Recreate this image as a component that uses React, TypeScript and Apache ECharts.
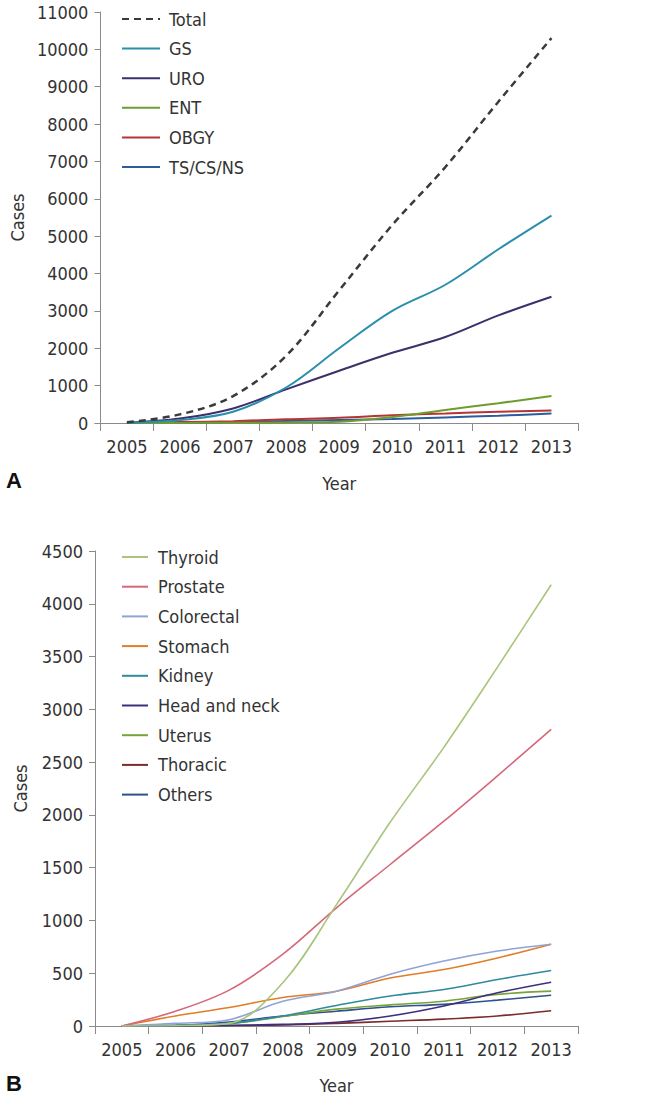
import React, { useEffect, useRef } from "react";
import * as echarts from "echarts";

const years = ["2005", "2006", "2007", "2008", "2009", "2010", "2011", "2012", "2013"];

// Panel A
const namesA = ["Total", "GS", "URO", "ENT", "OBGY", "TS/CS/NS"];
const totalA = [20, 230, 720, 1800, 3550, 5300, 6850, 8600, 10300];
const gsA = [10, 80, 300, 950, 2000, 3000, 3700, 4650, 5550];
const uroA = [10, 120, 390, 900, 1400, 1880, 2300, 2880, 3380];
const entA = [0, 3, 5, 15, 35, 160, 350, 530, 725];
const obgyA = [0, 25, 50, 100, 140, 210, 255, 300, 335];
const tsA = [0, 10, 25, 55, 80, 105, 150, 195, 255];
const colorsA = ["#3a3a3a", "#2a8fac", "#3c2f6b", "#6f9c30", "#b83434", "#2b5d9c"];

// Panel B
const namesB = ["Thyroid", "Prostate", "Colorectal", "Stomach", "Kidney", "Head and neck", "Uterus", "Thoracic", "Others"];
const thyroidB = [0, 3, 25, 410, 1150, 1930, 2640, 3400, 4180];
const prostateB = [0, 140, 340, 680, 1120, 1530, 1940, 2370, 2810];
const colorectalB = [0, 25, 60, 235, 330, 490, 615, 710, 775];
const stomachB = [0, 95, 175, 270, 330, 455, 535, 645, 775];
const kidneyB = [0, 10, 25, 95, 195, 285, 345, 440, 525];
const headNeckB = [0, 2, 5, 15, 35, 95, 190, 315, 415];
const uterusB = [0, 3, 20, 90, 160, 200, 235, 300, 330];
const thoracicB = [0, 0, 5, 10, 25, 45, 65, 95, 145];
const othersB = [0, 5, 38, 95, 140, 182, 205, 245, 292];
const colorsB = ["#a9c47c", "#d5687a", "#8fa3d8", "#e07d25", "#2f8b9c", "#3d2f7c", "#78a23a", "#7a2b2b", "#2e508c"];

const ticksA = { min: 0, max: 11000, interval: 1000 };
const ticksB = { min: 0, max: 4500, interval: 500 };

const FONT = "'DejaVu Sans Condensed', 'Roboto', sans-serif";
const FS = 18;
const TXT = "#333333";

export default function App() {
  const ref = useRef<HTMLDivElement>(null);
  useEffect(() => {
    if (!ref.current) return;
    const chart = echarts.init(ref.current, null, { renderer: "svg" });
    const dataA = [totalA, gsA, uroA, entA, obgyA, tsA];
    const dataB = [thyroidB, prostateB, colorectalB, stomachB, kidneyB, headNeckB, uterusB, thoracicB, othersB];

    const xAxisBase = (gridIndex: number, gap: number) => ({
      type: "category",
      gridIndex,
      data: years,
      boundaryGap: true,
      name: "Year",
      nameLocation: "middle",
      nameGap: gap,
      nameTextStyle: { fontFamily: FONT, fontSize: FS, color: TXT },
      axisLine: { lineStyle: { color: "#8a8a8a", width: 1 } },
      axisTick: { show: true, length: 8, alignWithLabel: false, lineStyle: { color: "#8a8a8a" } },
      axisLabel: { fontFamily: FONT, fontSize: FS, color: TXT, margin: 14, interval: 0 },
      splitLine: { show: false },
    });
    const yAxisBase = (gridIndex: number, t: any, gap: number) => ({
      type: "value",
      gridIndex,
      min: t.min,
      max: t.max,
      interval: t.interval,
      name: "Cases",
      nameLocation: "middle",
      nameGap: gap,
      nameTextStyle: { fontFamily: FONT, fontSize: FS, color: TXT },
      axisLine: { show: true, lineStyle: { color: "#8a8a8a", width: 1 } },
      axisTick: { show: true, length: 6, lineStyle: { color: "#8a8a8a" } },
      axisLabel: { fontFamily: FONT, fontSize: FS, color: TXT, margin: 12, formatter: (v: number) => String(v) },
      splitLine: { show: false },
    });

    const seriesA = namesA.map((n, i) => ({
      name: n,
      type: "line",
      xAxisIndex: 0,
      yAxisIndex: 0,
      data: dataA[i],
      smooth: 0.35,
      symbol: "none",
      lineStyle: { color: colorsA[i], width: i === 0 ? 2.5 : 2, type: i === 0 ? [7, 5] : "solid" },
      itemStyle: { color: colorsA[i] },
      z: 10 - i,
    }));
    const seriesB = namesB.map((n, i) => ({
      name: n,
      type: "line",
      xAxisIndex: 1,
      yAxisIndex: 1,
      data: dataB[i],
      smooth: 0.35,
      symbol: "none",
      lineStyle: { color: colorsB[i], width: 1.6 },
      itemStyle: { color: colorsB[i] },
      z: 10 - i,
    }));

    chart.setOption({
      animation: false,
      backgroundColor: "#ffffff",
      grid: [
        { left: 100, top: 12, width: 478, height: 411 },
        { left: 95, top: 551, width: 483, height: 475 },
      ],
      xAxis: [xAxisBase(0, 51), xAxisBase(1, 50)],
      yAxis: [yAxisBase(0, ticksA, 70), yAxisBase(1, ticksB, 66)],
      legend: [
        {
          data: namesA,
          orient: "vertical",
          left: 116,
          top: 5,
          itemWidth: 38,
          itemHeight: 14,
          itemGap: 11.6,
          itemStyle: { opacity: 0 },
          textStyle: { fontFamily: FONT, fontSize: FS, color: TXT, lineHeight: 14, padding: [0, 0, 0, 4] },
        },
        {
          data: namesB,
          orient: "vertical",
          left: 116,
          top: 543,
          itemWidth: 26,
          itemHeight: 14,
          itemGap: 11.7,
          itemStyle: { opacity: 0 },
          textStyle: { fontFamily: FONT, fontSize: FS, color: TXT, lineHeight: 14, padding: [0, 0, 0, 5] },
        },
      ],
      graphic: [
        { type: "text", left: 6, top: 469, style: { text: "A", fontFamily: "'Liberation Sans', Arial, sans-serif", fontWeight: "bold", fontSize: 22, fill: "#111" } },
        { type: "text", left: 6, top: 1072, style: { text: "B", fontFamily: "'Liberation Sans', Arial, sans-serif", fontWeight: "bold", fontSize: 22, fill: "#111" } },
      ],
      series: [...seriesA, ...seriesB],
    });
    return () => chart.dispose();
  }, []);

  return (
    <div
      ref={ref}
      style={{ position: "fixed", left: 0, top: 0, width: 672, height: 1099, background: "#fff" }}
    />
  );
}
